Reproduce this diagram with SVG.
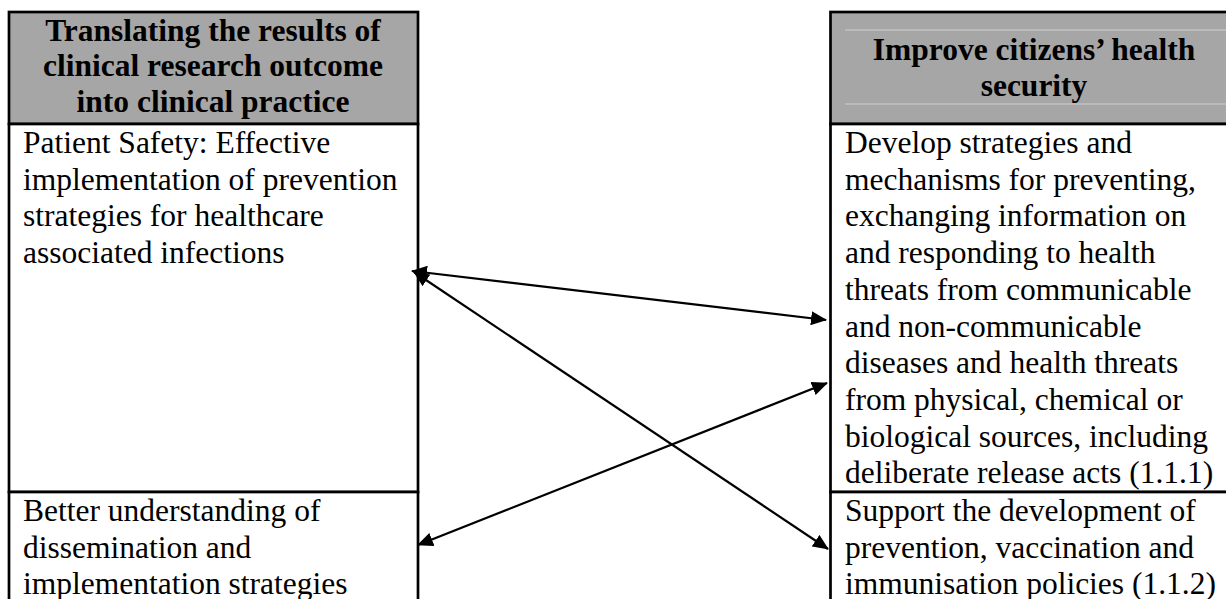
<svg xmlns="http://www.w3.org/2000/svg" width="1226" height="599" viewBox="0 0 1226 599">
  <style>
    .cell { fill: #ffffff; stroke: #000000; stroke-width: 2.7; }
    .head { fill: #a6a6a6; stroke: #000000; stroke-width: 2.7; }
    .rule { stroke: #cfcfcf; stroke-width: 1; }
    .ht { font-family: "Liberation Serif", "Times New Roman", serif; font-size: 31.5px; font-weight: bold; fill: #000; text-anchor: middle; }
    .bt { font-family: "Liberation Serif", "Times New Roman", serif; font-size: 31.5px; fill: #000; }
    .link { fill: none; stroke: #000000; stroke-width: 2.2; marker-start: url(#tip); marker-end: url(#tip); }
  </style>
  <defs>
    <marker id="tip" viewBox="0 0 16 14" refX="15" refY="7" markerWidth="16" markerHeight="14" markerUnits="userSpaceOnUse" orient="auto-start-reverse">
      <path d="M0,0 L16,7 L0,14 z" fill="#000000"/>
    </marker>
  </defs>

  <rect width="1226" height="599" fill="#ffffff"/>

  <!-- Left column -->
  <g id="left-header">
    <rect class="head" x="9" y="12" width="409" height="112"/>
    <text class="ht" x="213" y="40.5">Translating the results of</text>
    <text class="ht" x="213" y="76">clinical research outcome</text>
    <text class="ht" x="213" y="111.5">into clinical practice</text>
  </g>
  <g id="patient-safety">
    <rect class="cell" x="9" y="124" width="409" height="368"/>
    <text class="bt" x="23" y="153">Patient Safety: Effective</text>
    <text class="bt" x="23" y="189.7">implementation of prevention</text>
    <text class="bt" x="23" y="226.4">strategies for healthcare</text>
    <text class="bt" x="23" y="263.1">associated infections</text>
  </g>
  <g id="dissemination">
    <rect class="cell" x="9" y="492" width="409" height="130"/>
    <text class="bt" x="23" y="521">Better understanding of</text>
    <text class="bt" x="23" y="557.7">dissemination and</text>
    <text class="bt" x="23" y="594.4">implementation strategies</text>
  </g>

  <!-- Right column -->
  <g id="right-header">
    <rect class="head" x="830.5" y="12" width="420" height="112"/>
    <line class="rule" x1="845" y1="30" x2="1226" y2="30"/>
    <line class="rule" x1="845" y1="104" x2="1226" y2="104"/>
    <text class="ht" x="1034" y="60">Improve citizens’ health</text>
    <text class="ht" x="1034" y="95.5">security</text>
  </g>
  <g id="health-threats">
    <rect class="cell" x="830.5" y="124" width="420" height="368"/>
    <text class="bt" x="845" y="153">Develop strategies and</text>
    <text class="bt" x="845" y="189.7">mechanisms for preventing,</text>
    <text class="bt" x="845" y="226.4">exchanging information on</text>
    <text class="bt" x="845" y="263.1">and responding to health</text>
    <text class="bt" x="845" y="299.8">threats from communicable</text>
    <text class="bt" x="845" y="336.5">and non-communicable</text>
    <text class="bt" x="845" y="373.2">diseases and health threats</text>
    <text class="bt" x="845" y="409.9">from physical, chemical or</text>
    <text class="bt" x="845" y="446.6">biological sources, including</text>
    <text class="bt" x="845" y="483.3">deliberate release acts (1.1.1)</text>
  </g>
  <g id="vaccination">
    <rect class="cell" x="830.5" y="492" width="420" height="130"/>
    <text class="bt" x="845" y="521">Support the development of</text>
    <text class="bt" x="845" y="557.7">prevention, vaccination and</text>
    <text class="bt" x="845" y="594.4">immunisation policies (1.1.2)</text>
  </g>

  <!-- Connectors: two-way links between the cells -->
  <g id="connectors">
    <line class="link" x1="412" y1="271" x2="826" y2="320"/>
    <line class="link" x1="414" y1="272" x2="828" y2="549"/>
    <line class="link" x1="418" y1="545" x2="827" y2="383"/>
  </g>
</svg>
